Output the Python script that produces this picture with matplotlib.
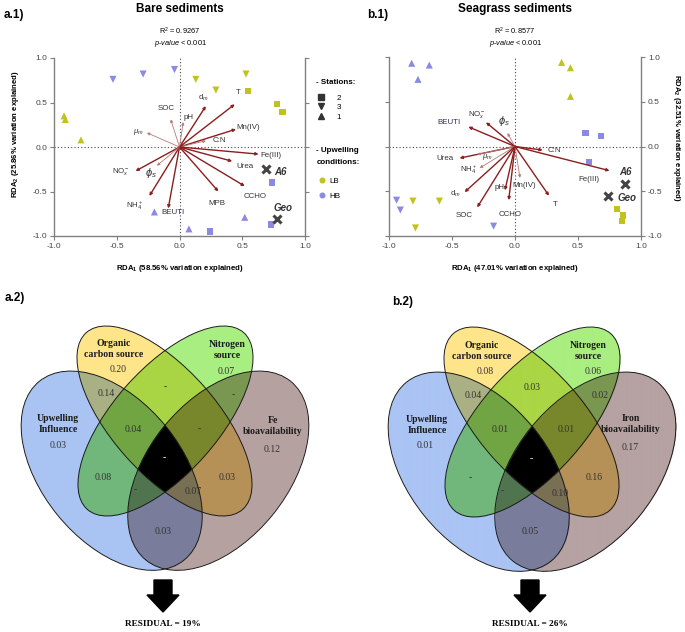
import numpy as np
import matplotlib
matplotlib.use("Agg")
import matplotlib.pyplot as plt
from matplotlib.patches import Ellipse, FancyArrow
from matplotlib.lines import Line2D
from matplotlib.colors import to_rgb

plt.rcParams['font.family'] = ['Liberation Sans', 'DejaVu Sans']
plt.rcParams['mathtext.fontset'] = 'custom'
plt.rcParams['mathtext.rm'] = 'Liberation Sans'
plt.rcParams['mathtext.it'] = 'Liberation Sans:italic'
plt.rcParams['mathtext.bf'] = 'Liberation Sans:bold'

W, H = 685, 632
F, T = False, True

# ---------------- RDA : bare sediments ----------------
bare_x = [-0.92, -0.91, -0.785, 0.13, 0.29, 0.53, 0.545, 0.78, 0.82,
          -0.53, -0.29, -0.04, -0.20, 0.075, 0.52, 0.74, 0.24, 0.73]
bare_y = [0.35, 0.31, 0.08, 0.76, 0.64, 0.82, 0.63, 0.48, 0.39,
          0.76, 0.82, 0.87, -0.73, -0.92, -0.79, -0.40, -0.95, -0.87]
bare_station = [1, 1, 1, 3, 3, 3, 2, 2, 2, 3, 3, 3, 1, 1, 1, 2, 2, 2]
bare_cond = ['LB'] * 9 + ['HB'] * 9
bare_vars = ['T', 'd$_m$', 'pH', 'SOC', r'$\mu_m$', 'Mn(IV)', 'C:N', 'Fe(III)',
             'Urea', 'CCHO', 'MPB', 'BEUTI', r'NH$_4^+$', r'NO$_x^-$', r'$\phi_s$']
bare_vx = [0.44, 0.21, 0.03, -0.07, -0.26, 0.45, 0.21, 0.63,
           0.42, 0.52, 0.31, -0.09, -0.24, -0.35, -0.18]
bare_vy = [0.48, 0.46, 0.28, 0.31, 0.16, 0.20, 0.07, -0.08,
           -0.16, -0.44, -0.50, -0.69, -0.55, -0.27, -0.21]
bare_samples = ['A6', 'Geo']
bare_samp_x = [0.69, 0.78]
bare_samp_y = [-0.25, -0.81]
bare_r2 = '0.9267'
bare_rda = ['58.56', '25.86']

# label layout / arrow style (bare)
bare_lx = [0.47, 0.19, 0.07, -0.11, -0.33, 0.55, 0.32, 0.73, 0.52, 0.60, 0.30, -0.05, -0.36, -0.47, -0.23]
bare_ly = [0.61, 0.55, 0.33, 0.43, 0.17, 0.22, 0.07, -0.09, -0.22, -0.56, -0.64, -0.74, -0.66, -0.28, -0.29]
bare_thin = [F, F, T, T, T, F, T, F, F, F, F, F, F, F, T]
bare_samp_lx = [0.80, 0.825]
bare_samp_ly = [-0.28, -0.685]

# ---------------- RDA : seagrass sediments ----------------
sea_x = [-0.82, -0.68, -0.77, 0.56, 0.68, 0.59, -0.94, -0.91, -0.17,
         0.37, 0.44, 0.44, 0.81, 0.86, 0.85, -0.81, -0.60, -0.79]
sea_y = [0.93, 0.91, 0.75, 0.15, 0.12, -0.17, -0.60, -0.71, -0.89,
         0.94, 0.88, 0.56, -0.70, -0.77, -0.83, -0.61, -0.61, -0.91]
sea_station = [1, 1, 1, 2, 2, 2, 3, 3, 3, 1, 1, 1, 2, 2, 2, 3, 3, 3]
sea_cond = ['HB'] * 9 + ['LB'] * 9
sea_vars = ['BEUTI', r'NO$_x^-$', r'$\phi_s$', 'C:N', 'Fe(III)', 'Urea', r'$\mu_m$',
            r'NH$_4^+$', 'd$_m$', 'SOC', 'pH', 'CCHO', 'Mn(IV)', 'T']
sea_vx = [-0.37, -0.23, -0.06, 0.22, 0.75, -0.44, -0.30, -0.28, -0.40, -0.30, -0.08, -0.05, 0.04, 0.27]
sea_vy = [0.22, 0.27, 0.15, -0.04, -0.27, -0.13, -0.09, -0.24, -0.51, -0.68, -0.49, -0.60, -0.35, -0.55]
sea_samples = ['A6', 'Geo']
sea_samp_x = [0.87, 0.74]
sea_samp_y = [-0.42, -0.55]
sea_r2 = '0.8577'
sea_rda = ['47.01', '32.51']

sea_lx = [-0.52, -0.30, -0.09, 0.31, 0.59, -0.56, -0.22, -0.37, -0.47, -0.40, -0.12, -0.04, 0.07, 0.32]
sea_ly = [0.27, 0.36, 0.29, -0.05, -0.37, -0.13, -0.12, -0.26, -0.53, -0.77, -0.46, -0.76, -0.44, -0.65]
sea_thin = [F, F, T, F, F, F, T, T, F, F, F, F, T, F]
sea_samp_lx = [0.88, 0.89]
sea_samp_ly = [-0.28, -0.57]

# ---------------- Venn (variation partitioning) ----------------
# region order: Y, G, B, Br, BY, YG, GBr, BG, YBr, BBr, BYG, YGBr, BGBr, BYBr, all
# B = upwelling, Y = organic carbon, G = nitrogen, Br = iron
bare_parts = ['0.20', '0.07', '0.03', '0.12', '0.14', '-', '-', '0.08', '0.03',
              '0.03', '0.04', '-', '-', '0.07', '-']
sea_parts = ['0.08', '0.06', '0.01', '0.17', '0.04', '0.03', '0.02', '-', '0.16',
             '0.05', '0.01', '0.01', '-', '0.10', '-']
bare_sets = ['Upwelling\nInfluence', 'Organic\ncarbon source', 'Nitrogen\nsource', 'Fe\nbioavailability']
sea_sets = ['Upwelling\nInfluence', 'Organic\ncarbon source', 'Nitrogen\nsource', 'Iron\nbioavailability']
bare_residual = 19
sea_residual = 26

# layout of the venn (pixels, left venn; right venn is shifted)
part_pos = [(118, 370), (226, 371), (58, 445), (272, 449), (106, 394), (165, 387),
            (233, 395), (103, 477), (227, 477), (163, 531), (133, 429), (199, 429),
            (135, 490), (193, 492), (164, 458)]
sea_part_pos = list(part_pos)
sea_part_pos[3] = (263, 446)
bare_set_pos = [(58, 424), (114, 349), (227, 350), (273, 426)]
sea_set_pos = [(427, 425), (482, 351), (588, 351), (631, 424)]
ells = [(111.7, 470.7, 230, 140, 51), (164.5, 421, 236, 105, 48.5),
        (165.5, 421, 236, 105, 131.5), (218.3, 470.7, 230, 140, 129)]
ell_cols = ['#aac4f4', '#ffe58a', '#aaee80', '#b6a2a2']

YEL = '#c2c21e'
BLU = '#8a8ae4'
ARR = '#8b1e1e'
ARR_LIGHT = '#b87a7a'
st_marker = {2: 's', 3: 'v', 1: '^'}
st_size = {2: 20, 3: 26, 1: 26}
cond_color = {'LB': YEL, 'HB': BLU}


def rda_panel(ax, x, y, station, cond, vnames, vx, vy, lx, ly, thin,
              samples, sx, sy, slx, sly, rda, side):
    ax.set_xlim(-1, 1)
    ax.set_ylim(-1, 1)
    ax.axhline(0, color='#444', lw=0.8, ls=(0, (1, 2)), zorder=1)
    ax.axvline(0, color='#444', lw=0.8, ls=(0, (1, 2)), zorder=1)
    for s in [2, 3, 1]:
        for c in ['LB', 'HB']:
            idx = [i for i in range(len(x)) if station[i] == s and cond[i] == c]
            ax.scatter([x[i] for i in idx], [y[i] for i in idx], marker=st_marker[s],
                       s=st_size[s], color=cond_color[c], edgecolors='none', zorder=3)
    for name, ex, ey, tx, ty, th in zip(vnames, vx, vy, lx, ly, thin):
        ax.annotate('', xy=(ex, ey), xytext=(0, 0),
                    arrowprops=dict(arrowstyle='-|>', color=ARR_LIGHT if th else ARR,
                                    lw=0.6 if th else 1.0, mutation_scale=4,
                                    shrinkA=0, shrinkB=0), zorder=4)
        fs = 8 if 'phi' in name else 5.7
        col = '#2e2e55' if name == 'BEUTI' else '#333333'
        ax.text(tx, ty, name, fontsize=fs, color=col, ha='center', va='center', zorder=5)
    ax.plot(sx, sy, ls='none', marker='x', ms=6, mew=2.2, color='#444444', zorder=5)
    for name, tx, ty in zip(samples, slx, sly):
        ax.text(tx, ty, name, fontsize=7, fontweight='bold', style='italic',
                color='#333333', ha='center', va='center', zorder=5)
    ticks = [-1, -0.5, 0, 0.5, 1]
    ax.set_xticks(ticks)
    ax.set_yticks(ticks)
    ax.set_xticklabels(['%.1f' % t for t in ticks])
    ax.set_yticklabels(['%.1f' % t for t in ticks])
    ax.spines['top'].set_visible(False)
    for sp in ['left', 'right', 'bottom']:
        ax.spines[sp].set_color('#808080')
        ax.spines[sp].set_linewidth(1.0)
    ax.tick_params(direction='out', length=3, width=0.8, color='#808080',
                   labelsize=6, labelcolor='#444444', pad=2)
    ax.tick_params(axis='y', left=True, right=True,
                   labelleft=(side == 'left'), labelright=(side == 'right'))
    ax.text(0.5, -0.18, r'RDA$_\mathbf{1}$ (%s%% variation explained)' % rda[0],
            transform=ax.transAxes, fontsize=5.6, fontweight='bold', ha='center', va='center')
    if side == 'left':
        ax.text(-0.155, 0.57, r'RDA$_\mathbf{2}$ (%s%% variation explained)' % rda[1],
                transform=ax.transAxes, fontsize=5.6, fontweight='bold', rotation=90,
                ha='center', va='center')
    else:
        ax.text(1.14, 0.55, r'RDA$_\mathbf{2}$ (%s%% variation explained)' % rda[1],
                transform=ax.transAxes, fontsize=5.6, fontweight='bold', rotation=270,
                ha='center', va='center')


def ell_mask(X, Y, cx, cy, a, b, ang):
    t = np.deg2rad(ang)
    dx, dy = X - cx, Y - cy
    u = dx * np.cos(t) + dy * np.sin(t)
    v = -dx * np.sin(t) + dy * np.cos(t)
    return (u / a) ** 2 + (v / b) ** 2 <= 1


def venn(ax, parts, ppos, sets, set_pos, residual, shx, shy):
    x0, x1, y0, y1 = 10 + shx, 320 + shx, 316 + shy, 576 + shy
    xs = np.arange(x0, x1, 0.5) + 0.25
    ys = np.arange(y0, y1, 0.5) + 0.25
    X, Y = np.meshgrid(xs, ys)
    rgb = np.ones(X.shape + (3,))
    all_in = np.ones(X.shape, bool)
    any_in = np.zeros(X.shape, bool)
    for (cx, cy, w, h, ang), col in zip(ells, ell_cols):
        m = ell_mask(X, Y, cx + shx, cy + shy, w / 2, h / 2, ang)
        rgb[m] *= np.array(to_rgb(col))
        all_in &= m
        any_in |= m
    rgb[all_in] = 0
    img = np.dstack([rgb, any_in.astype(float)])
    ax.imshow(img, extent=(x0, x1, y1, y0), interpolation='bilinear', aspect='auto', zorder=1)
    for (cx, cy, w, h, ang) in ells:
        ax.add_patch(Ellipse((cx + shx, cy + shy), w, h, angle=ang, fill=False,
                             ec='#1a1a1a', lw=0.7, zorder=2))
    for i, (val, (px, py)) in enumerate(zip(parts, ppos)):
        ax.text(px + shx, py + shy, val, family='Liberation Serif', fontsize=7,
                color='white' if i == 14 else '#333333', ha='center', va='center', zorder=3)
    for name, (px, py) in zip(sets, set_pos):
        ax.text(px, py, name, family='Liberation Serif', fontsize=7, fontweight='bold',
                color='#1a1a1a', ha='center', va='center', linespacing=1.15, zorder=3)
    ax.add_patch(FancyArrow(163 + shx, 580, 0, 32, width=18, head_width=32, head_length=17,
                            length_includes_head=True, color='black', zorder=3))
    ax.text(163 + shx, 624, 'RESIDUAL = %d%%' % residual, family='Liberation Serif',
            fontsize=6.7, fontweight='bold', ha='center', va='center')


fig = plt.figure(figsize=(W / 100, H / 100), dpi=100)
vax = fig.add_axes([0, 0, 1, 1])
vax.axis('off')

venn(vax, bare_parts, part_pos, bare_sets, bare_set_pos, bare_residual, 0, 0)
venn(vax, sea_parts, sea_part_pos, sea_sets, sea_set_pos, sea_residual, 367, 1)
vax.set_xlim(0, W)
vax.set_ylim(H, 0)

# titles and panel letters
vax.text(4, 15, 'a.1)', fontsize=8.5, fontweight='bold', va='center')
vax.text(367, 15, 'b.1)', fontsize=8.5, fontweight='bold', va='center')
vax.text(5, 298, 'a.2)', fontsize=8.5, fontweight='bold', va='center')
vax.text(392, 302, 'b.2)', fontsize=8.5, fontweight='bold', va='center')
vax.text(180, 9, 'Bare sediments', fontsize=8.5, fontweight='bold', ha='center', va='center')
vax.text(515, 9, 'Seagrass sediments', fontsize=8.5, fontweight='bold', ha='center', va='center')
for cx, r2 in [(180, bare_r2), (515, sea_r2)]:
    vax.text(cx, 31, r'R$^2$ = ' + r2, fontsize=5.3, ha='center', va='center')
    vax.text(cx, 43.5, r'$\it{p}$-$\it{value}$ < 0.001', fontsize=5.3, ha='center', va='center')

ax1 = fig.add_axes([54 / W, 1 - 236 / H, 251 / W, 178 / H])
rda_panel(ax1, bare_x, bare_y, bare_station, bare_cond, bare_vars, bare_vx, bare_vy,
          bare_lx, bare_ly, bare_thin, bare_samples, bare_samp_x, bare_samp_y,
          bare_samp_lx, bare_samp_ly, bare_rda, 'left')
ax2 = fig.add_axes([389 / W, 1 - 236 / H, 252 / W, 179 / H])
rda_panel(ax2, sea_x, sea_y, sea_station, sea_cond, sea_vars, sea_vx, sea_vy,
          sea_lx, sea_ly, sea_thin, sea_samples, sea_samp_x, sea_samp_y,
          sea_samp_lx, sea_samp_ly, sea_rda, 'right')

# legends (titles as separate texts)
vax.text(316, 83, '- Stations:', fontsize=5.8, fontweight='bold', va='center')
vax.text(316, 150, '- Upwelling', fontsize=5.8, fontweight='bold', va='center')
vax.text(317, 163, 'conditions:', fontsize=5.8, fontweight='bold', va='center')
st_h = [Line2D([], [], ls='none', marker=st_marker[s], color='#333333', ms=4.2) for s in [2, 3, 1]]
fig.legend(st_h, ['2', '3', '1'], loc='upper left', bbox_to_anchor=(317 / W, 1 - 94 / H),
           frameon=False, prop={'size': 5.8}, labelspacing=0.25, handlelength=1.0,
           handletextpad=1.4, borderpad=0, borderaxespad=0)
cd_h = [Line2D([], [], ls='none', marker='o', color=cond_color[c], ms=3.3) for c in ['LB', 'HB']]
fig.legend(cd_h, ['LB', 'HB'], loc='upper left', bbox_to_anchor=(318 / W, 1 - 177.5 / H),
           frameon=False, prop={'size': 5.8}, labelspacing=0.85, handlelength=1.0,
           handletextpad=0.4, borderpad=0, borderaxespad=0)

fig.savefig('out.png', dpi=100)
